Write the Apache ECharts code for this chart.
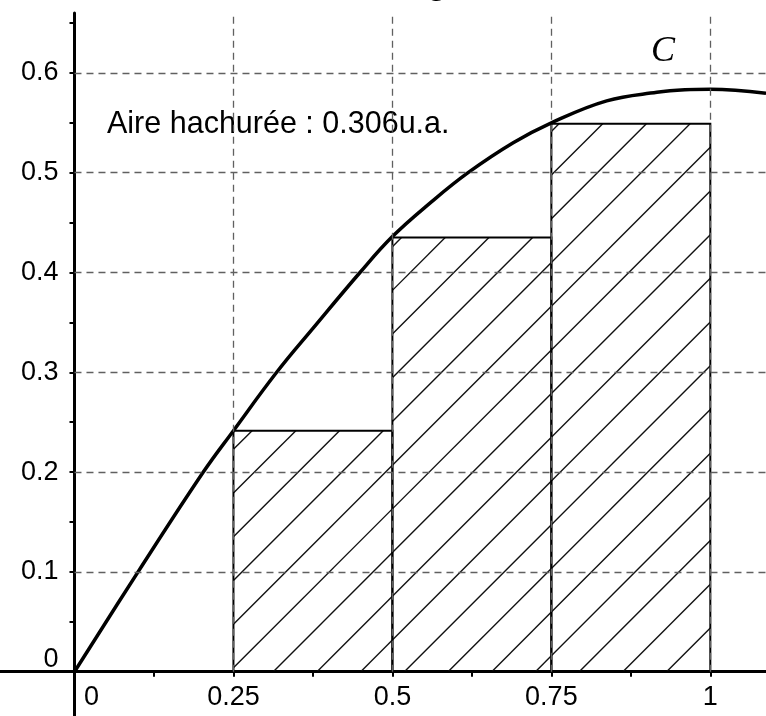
<!DOCTYPE html>
<html>
<head>
<meta charset="utf-8">
<script src="https://cdn.jsdelivr.net/npm/echarts@6/dist/echarts.min.js"></script>
<style>
  html, body { margin: 0; padding: 0; background: #fff; }
  #chart { width: 766px; height: 716px; }
</style>
</head>
<body>
<div id="chart"></div>
<script>
// courbe C
var curveX = [0, 0.1, 0.2026, 0.25, 0.318, 0.375, 0.449, 0.5, 0.56, 0.619, 0.69, 0.75, 0.837, 0.916, 0.96, 1, 1.0876];
var curveY = [0, 0.1, 0.2, 0.2415, 0.3, 0.344, 0.4, 0.436, 0.47, 0.5, 0.53, 0.55, 0.572, 0.5805, 0.583, 0.5835, 0.5795];

// rectangles hachurés (bord gauche, hauteur)
var stepLeft = [0.25, 0.5, 0.75];
var stepWidth = 0.25;
var stepHeights = [0.2415, 0.435, 0.549];

// graduations / quadrillage
var xGridTicks = [0.25, 0.5, 0.75, 1];
var yGridTicks = [0.1, 0.2, 0.3, 0.4, 0.5, 0.6];

var areaText = 'Aire hachurée : 0.306u.a.';
var curveName = 'C';

var X_MIN = -0.125, X_MAX = 1.125, Y_MIN = -0.05, Y_MAX = 0.66, Y_TICK_MAX = 0.65;

var myChart = echarts.init(document.getElementById('chart'));

// hachures : droites x + y = c (pixels)
var HATCH_STEP = 43.7, HATCH_PHASE = 24;

function renderStep(params, api) {
	var x0 = api.value(0), x1 = api.value(1), h = api.value(2);
	var p0 = api.coord([x0, 0]);
	var p1 = api.coord([x1, h]);
	var o = api.coord([0, 0]);
	var left = p0[0], right = p1[0], top = p1[1], bottom = p0[1];
	var children = [];
	var base = o[0] + o[1] + HATCH_PHASE;
	var kMin = Math.floor((left + top - base) / HATCH_STEP);
	var kMax = Math.ceil((right + bottom - base) / HATCH_STEP);
	for (var k = kMin; k <= kMax; k++) {
		var c = base + k * HATCH_STEP;
		var lo = Math.max(left, c - bottom);
		var hi = Math.min(right, c - top);
		if (hi - lo < 0.5) continue;
		children.push({
			type: 'line',
			shape: { x1: lo, y1: c - lo, x2: hi, y2: c - hi },
			style: { stroke: '#111', lineWidth: 1.4 }
		});
	}
	children.push({
		type: 'rect',
		shape: { x: left, y: top, width: right - left, height: bottom - top },
		style: { fill: 'none', stroke: '#000', lineWidth: 2 }
	});
	return { type: 'group', children: children };
}

var gridLines = [];
xGridTicks.forEach(function (v) {
	gridLines.push([{ coord: [v, 0] }, { coord: [v, Y_MAX] }]);
});
yGridTicks.forEach(function (v) {
	gridLines.push([{ coord: [0, v] }, { coord: [X_MAX, v] }]);
});

var FONT = 'Liberation Sans';

function xLabel(v) {
	var q = v * 4;
	if (v < 0 || v > 1 + 1e-9 || Math.abs(q - Math.round(q)) > 1e-6) return '';
	if (Math.abs(v) < 1e-9) return '{z|0}';
	return String(+v.toFixed(3));
}
function yLabel(v) {
	var q = v * 10;
	if (v < 0 || v > 0.6 + 1e-9 || Math.abs(q - Math.round(q)) > 1e-6) return '';
	if (Math.abs(v) < 1e-9) return '{z|0}';
	return String(+v.toFixed(2));
}

var option = {
	animation: false,
	backgroundColor: '#fff',
	grid: [
		// grille complète : axes passant par l'origine
		{ left: -5, right: -23.8, top: 13, bottom: -5.6, containLabel: false, outerBoundsMode: 'none' },
		// premier quadrant : graduations et étiquettes
		{ left: 74.5, right: -23.8, top: 23, bottom: 44.3, containLabel: false, outerBoundsMode: 'none' }
	],
	xAxis: [
		{
			gridIndex: 0, type: 'value', min: X_MIN, max: X_MAX, interval: 0.125,
			axisLine: { onZero: true, lineStyle: { color: '#000', width: 3 } },
			axisTick: { show: false }, axisLabel: { show: false }, splitLine: { show: false }
		},
		{
			gridIndex: 1, type: 'value', min: 0, max: X_MAX, interval: 0.125,
			axisLine: { show: false },
			axisTick: { show: true, length: 5, lineStyle: { color: '#000', width: 2 } },
			splitLine: { show: false },
			axisLabel: {
				margin: 12, fontFamily: FONT, fontSize: 27, color: '#000',
				formatter: xLabel,
				rich: { z: { fontFamily: FONT, fontSize: 27, color: '#000', padding: [0, 0, 0, 34] } }
			}
		}
	],
	yAxis: [
		{
			gridIndex: 0, type: 'value', min: Y_MIN, max: Y_MAX, interval: 0.05,
			axisLine: { onZero: true, lineStyle: { color: '#000', width: 3 } },
			axisTick: { show: false }, axisLabel: { show: false }, splitLine: { show: false }
		},
		{
			gridIndex: 1, type: 'value', min: 0, max: Y_TICK_MAX, interval: 0.05,
			axisLine: { show: false },
			axisTick: { show: true, length: 5, lineStyle: { color: '#000', width: 2 } },
			splitLine: { show: false },
			axisLabel: {
				margin: 16, fontFamily: FONT, fontSize: 27, color: '#000',
				formatter: yLabel,
				rich: { z: { fontFamily: FONT, fontSize: 27, color: '#000', padding: [0, 0, 24, 0] } }
			}
		}
	],
	series: [
		{
			type: 'line', xAxisIndex: 0, yAxisIndex: 0,
			data: [], z: 1,
			markLine: {
				silent: true,
				symbol: ['none', 'none'],
				label: { show: false },
				lineStyle: { color: '#606060', width: 1.3, type: [7, 5] },
				data: gridLines
			}
		},
		{
			type: 'custom', xAxisIndex: 0, yAxisIndex: 0, z: 2,
			renderItem: renderStep,
			encode: { x: [0, 1], y: 2 },
			data: stepLeft.map(function (x, i) { return [x, x + stepWidth, stepHeights[i]]; })
		},
		{
			type: 'line', xAxisIndex: 0, yAxisIndex: 0, z: 3,
			smooth: 0.4,
			showSymbol: false,
			symbol: 'none',
			lineStyle: { color: '#000', width: 3.5 },
			data: curveX.map(function (x, i) { return [x, curveY[i]]; })
		}
	],
	graphic: [
		{
			type: 'text', left: 107, top: 109,
			style: { text: areaText, font: '30.5px "Liberation Sans"', fill: '#000' }
		},
		{
			type: 'text', x: 663, y: 52,
			style: { text: curveName, font: 'italic 36px "Liberation Serif"', fill: '#000', align: 'center', verticalAlign: 'middle' }
		},
		{
			type: 'text', x: 440, y: -16,
			style: { text: 'g', font: 'italic 36px "Liberation Serif"', fill: '#000', align: 'center', verticalAlign: 'middle' }
		}
	]
};

myChart.setOption(option);
</script>
</body>
</html>
